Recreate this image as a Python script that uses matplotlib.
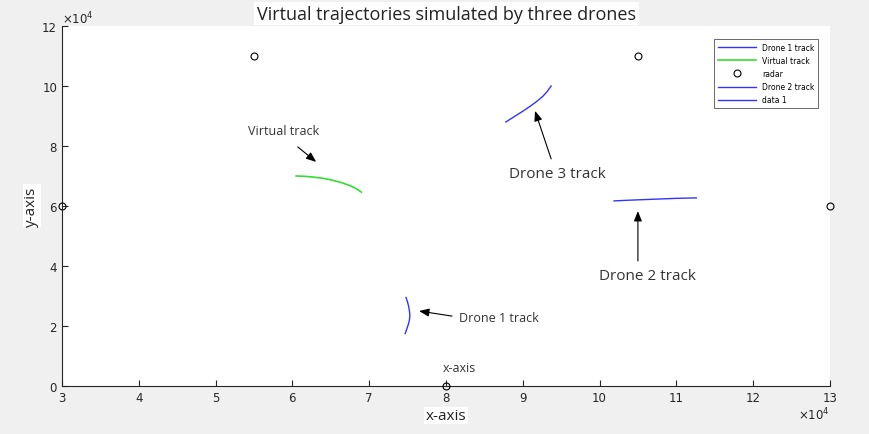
import numpy as np
import matplotlib
matplotlib.use("Agg")
import matplotlib.pyplot as plt

# tracks (values in metres, axis shows x10^4)
d1_x = [74800, 75000, 75150, 75250, 75300, 75250, 75100, 74900, 74700]
d1_y = [29500, 28000, 26500, 25000, 23500, 22000, 20500, 19000, 17500]

virt_x = [60500, 61500, 62500, 63500, 64500, 65500, 66500, 67500, 68300, 69000]
virt_y = [70000, 69900, 69700, 69400, 69000, 68400, 67700, 66800, 65800, 64600]

d2_x = [101900, 104000, 106000, 108000, 110000, 112600]
d2_y = [61700, 61950, 62150, 62350, 62550, 62700]

d3_x = [87800, 88600, 89400, 90200, 91000, 91800, 92600, 93200, 93700]
d3_y = [88000, 89300, 90600, 91900, 93300, 94800, 96500, 98200, 100000]

radar_x = [55000, 105000, 30000, 130000, 80000]
radar_y = [110000, 110000, 60000, 60000, 0]

blue = "#3333ff"
green = "#33dd33"
fnt = "Open Sans"

fig = plt.figure(figsize=(8.69, 4.35), dpi=100, facecolor="#f0f0f0")
ax = fig.add_axes([0.0713, 0.1103, 0.8837, 0.8277])
ax.set_facecolor("white")

ax.plot(d1_x, d1_y, color=blue, lw=1.0, label="Drone 1 track")
ax.plot(virt_x, virt_y, color=green, lw=1.2, label="Virtual track")
ax.plot(radar_x, radar_y, "o", mfc="none", mec="black", ms=5, mew=0.8,
        clip_on=False, zorder=5, label="radar")
ax.plot(d2_x, d2_y, color=blue, lw=1.0, label="Drone 2 track")
ax.plot(d3_x, d3_y, color=blue, lw=1.0, label="data 1")

ax.set_xlim(30000, 130000)
ax.set_ylim(0, 120000)
ax.set_xticks(np.arange(30000, 130001, 10000))
ax.set_yticks(np.arange(0, 120001, 20000))
ax.set_xticklabels([str(v) for v in range(3, 14)])
ax.set_yticklabels([str(v) for v in range(0, 13, 2)])
ax.tick_params(direction="in", length=4, labelsize=8.5, colors="#262626")
ax.spines["top"].set_visible(False)
ax.spines["right"].set_visible(False)
for s in ("left", "bottom"):
    ax.spines[s].set_color("#262626")
    ax.spines[s].set_linewidth(0.8)

ax.text(0.0, 1.0, r"$\times10^4$", transform=ax.transAxes, fontsize=8.5,
        color="#262626", ha="left", va="bottom")
ax.text(1.0, -0.055, r"$\times10^4$", transform=ax.transAxes, fontsize=8.5,
        color="#262626", ha="right", va="top")

ax.set_xlabel("x-axis", fontsize=11, family=fnt, color="#222222",
              labelpad=3, bbox=dict(fc="white", ec="none", pad=1))
ax.set_ylabel("y-axis", fontsize=11, family=fnt, color="#222222",
              labelpad=2, bbox=dict(fc="white", ec="none", pad=1))
fig.text(0.514, 0.966, "Virtual trajectories simulated by three drones",
         fontsize=13, family=fnt, color="#222222", ha="center", va="center",
         bbox=dict(fc="white", ec="none", pad=2))

arr = dict(arrowstyle="-|>,head_length=0.5,head_width=0.2", color="black",
           lw=0.8, mutation_scale=12, shrinkA=0, shrinkB=0)
ax.annotate("", xy=(63100, 74700), xytext=(60700, 79700), arrowprops=arr)
ax.text(58800, 85000, "Virtual track", fontsize=9, family=fnt,
        color="#333333", ha="center", va="center")
ax.annotate("", xy=(91600, 91700), xytext=(93700, 75700), arrowprops=arr)
ax.text(94500, 70700, "Drone 3 track", fontsize=11, family=fnt,
        color="#333333", ha="center", va="center")
ax.annotate("", xy=(105000, 58300), xytext=(105000, 41700), arrowprops=arr)
ax.text(106200, 36700, "Drone 2 track", fontsize=11, family=fnt,
        color="#333333", ha="center", va="center")
ax.annotate("", xy=(76500, 25000), xytext=(80800, 23300), arrowprops=arr)
ax.text(81700, 22700, "Drone 1 track", fontsize=9, family=fnt,
        color="#333333", ha="left", va="center")
ax.text(81800, 6300, "x-axis", fontsize=9, family=fnt,
        color="#333333", ha="center", va="center")

leg = ax.legend(loc="upper right", bbox_to_anchor=(0.99, 0.975), fontsize=5.5,
                frameon=True, fancybox=False, edgecolor="#262626",
                handlelength=5, borderpad=0.5, labelspacing=0.55)
leg.get_frame().set_linewidth(0.6)

fig.savefig("out.png", dpi=100, facecolor=fig.get_facecolor())
